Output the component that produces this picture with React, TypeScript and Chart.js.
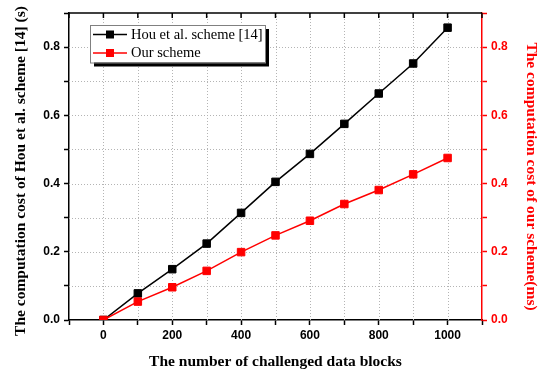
import React, { useEffect, useRef } from "react";
import { Chart, registerables } from "chart.js";

Chart.register(...registerables);

const blocks = [0, 100, 200, 300, 400, 500, 600, 700, 800, 900, 1000];
const houScheme = [0, 0.078, 0.149, 0.224, 0.314, 0.405, 0.487, 0.575, 0.664, 0.752, 0.857];
const ourScheme = [0, 0.054, 0.096, 0.144, 0.199, 0.248, 0.291, 0.34, 0.381, 0.427, 0.475];
const seriesNames = ["Hou et al. scheme [14]", "Our scheme"];
const xTitle = "The number of challenged data blocks";
const yLeftTitle = "The computation cost of Hou et al. scheme [14] (s)";
const yRightTitle = "The computation cost of our scheme(ms)";

const RED = "#ff0000";
const SERIF = "'Liberation Serif', 'Times New Roman', serif";
const SANS = "'Liberation Sans', Arial, sans-serif";
const TITLE_SIZE = 15.5;

const gridPlugin = {
  id: "dottedGrid",
  beforeDatasetsDraw(chart: any) {
    const { ctx, chartArea, scales } = chart;
    ctx.save();
    ctx.lineWidth = 1;
    ctx.setLineDash([1, 2]);
    ctx.strokeStyle = "#b4b4b4";
    for (const v of blocks) {
      const x = Math.round(scales.x.getPixelForValue(v)) + 0.5;
      ctx.beginPath();
      ctx.moveTo(x, chartArea.top);
      ctx.lineTo(x, chartArea.bottom);
      ctx.stroke();
    }
    for (let i = 1; i <= 8; i++) {
      const y = Math.round(scales.y.getPixelForValue(i / 10)) + 0.5;
      ctx.beginPath();
      ctx.moveTo(chartArea.left, y);
      ctx.lineTo(chartArea.right, y);
      ctx.stroke();
    }
    ctx.restore();
  },
  afterDraw(chart: any) {
    const { ctx, chartArea, scales } = chart;
    ctx.save();
    // top frame line and inward ticks
    ctx.strokeStyle = "#000";
    ctx.lineWidth = 1.5;
    ctx.beginPath();
    ctx.moveTo(chartArea.left, chartArea.top);
    ctx.lineTo(chartArea.right, chartArea.top);
    ctx.stroke();
    for (let v = -100; v <= 1100; v += 100) {
      const x = scales.x.getPixelForValue(v);
      ctx.beginPath();
      ctx.moveTo(x, chartArea.top);
      ctx.lineTo(x, chartArea.top + 5);
      ctx.stroke();
    }
    // vertical axis titles
    ctx.font = `bold ${TITLE_SIZE}px ${SERIF}`;
    ctx.textAlign = "center";
    ctx.textBaseline = "middle";
    ctx.save();
    ctx.translate(21, 171);
    ctx.rotate(-Math.PI / 2);
    ctx.fillStyle = "#000";
    ctx.fillText(yLeftTitle, 0, 0);
    ctx.restore();
    ctx.save();
    ctx.translate(531, 176.5);
    ctx.rotate(Math.PI / 2);
    ctx.fillStyle = RED;
    ctx.fillText(yRightTitle, 0, 0);
    ctx.restore();
    // legend
    const bx = 90, by = 25, bw = 175, bh = 37.5;
    ctx.fillStyle = "#000";
    ctx.fillRect(bx + 4, by + 4, bw, bh);
    ctx.fillStyle = "#fff";
    ctx.fillRect(bx, by, bw, bh);
    ctx.strokeStyle = "#808080";
    ctx.lineWidth = 1;
    ctx.strokeRect(bx + 0.5, by + 0.5, bw, bh);
    const colors = ["#000", RED];
    const rows = [34.5, 53];
    ctx.font = `14.5px ${SERIF}`;
    ctx.textAlign = "left";
    ctx.textBaseline = "middle";
    chart.data.datasets.forEach((ds: any, i: number) => {
      const y = rows[i];
      ctx.strokeStyle = colors[i];
      ctx.lineWidth = 1.5;
      ctx.beginPath();
      ctx.moveTo(93, y);
      ctx.lineTo(127, y);
      ctx.stroke();
      ctx.fillStyle = colors[i];
      ctx.fillRect(106, y - 4, 8, 8);
      ctx.fillStyle = "#000";
      ctx.fillText(ds.label, 131, y + 0.5);
    });
    ctx.restore();
  },
};

export default function App() {
  const ref = useRef<HTMLCanvasElement>(null);
  useEffect(() => {
    document.body.style.margin = "0";
    const canvas = ref.current!;
    const chart = new Chart(canvas, {
      type: "line",
      data: {
        datasets: [
          {
            label: seriesNames[0],
            data: blocks.map((b, i) => ({ x: b, y: houScheme[i] })),
            borderColor: "#000",
            backgroundColor: "#000",
            borderWidth: 1.5,
            pointStyle: "rect",
            pointRadius: 5.3,
            pointBorderWidth: 1,
            yAxisID: "y",
            order: 1,
          },
          {
            label: seriesNames[1],
            data: blocks.map((b, i) => ({ x: b, y: ourScheme[i] })),
            borderColor: RED,
            backgroundColor: RED,
            borderWidth: 1.5,
            pointStyle: "rect",
            pointRadius: 5.3,
            pointBorderWidth: 1,
            yAxisID: "y1",
            order: 0,
          },
        ],
      },
      plugins: [gridPlugin],
      options: {
        responsive: false,
        animation: false,
        events: [],
        layout: { padding: { top: 13, left: 0, right: 0, bottom: 0 } },
        plugins: { legend: { display: false }, tooltip: { enabled: false } },
        scales: {
          x: {
            type: "linear",
            position: "bottom",
            min: -100,
            max: 1100,
            afterFit: (s: any) => {
              s.height = 54;
            },
            ticks: {
              stepSize: 100,
              autoSkip: false,
              maxRotation: 0,
              padding: 3,
              color: "#000",
              font: { family: SANS, weight: "bold", size: 12 },
              callback: (v: any) => (v >= 0 && v <= 1000 && v % 200 === 0 ? String(v) : ""),
            },
            grid: { drawOnChartArea: false, drawTicks: true, tickLength: 5, tickColor: "#000", tickWidth: 1.5 },
            border: { color: "#000", width: 1.5 },
            title: {
              display: true,
              text: xTitle,
              color: "#000",
              font: { family: SERIF, weight: "bold", size: TITLE_SIZE },
              padding: { top: 0, bottom: 3 },
            },
          },
          y: {
            type: "linear",
            position: "left",
            min: 0,
            max: 0.9,
            afterFit: (s: any) => {
              s.width = 69;
            },
            ticks: {
              stepSize: 0.1,
              autoSkip: false,
              padding: 4,
              color: "#000",
              font: { family: SANS, weight: "bold", size: 12 },
              callback: (v: any) => {
                const k = Math.round(v * 10);
                return k % 2 === 0 && k <= 8 ? (k / 10).toFixed(1) : "";
              },
            },
            grid: { drawOnChartArea: false, drawTicks: true, tickLength: 5, tickColor: "#000", tickWidth: 1.5 },
            border: { color: "#000", width: 1.5 },
            title: { display: false, text: yLeftTitle },
          },
          y1: {
            type: "linear",
            position: "right",
            min: 0,
            max: 0.9,
            afterFit: (s: any) => {
              s.width = 65;
            },
            ticks: {
              stepSize: 0.1,
              autoSkip: false,
              padding: 4,
              color: RED,
              font: { family: SANS, weight: "bold", size: 12 },
              callback: (v: any) => {
                const k = Math.round(v * 10);
                return k % 2 === 0 && k <= 8 ? (k / 10).toFixed(1) : "";
              },
            },
            grid: { drawOnChartArea: false, drawTicks: true, tickLength: 5, tickColor: RED, tickWidth: 1.5 },
            border: { color: RED, width: 1.5 },
            title: { display: false, text: yRightTitle },
          },
        },
      },
    } as any);
    return () => chart.destroy();
  }, []);
  return <canvas ref={ref} width={547} height={374} style={{ display: "block" }} />;
}
